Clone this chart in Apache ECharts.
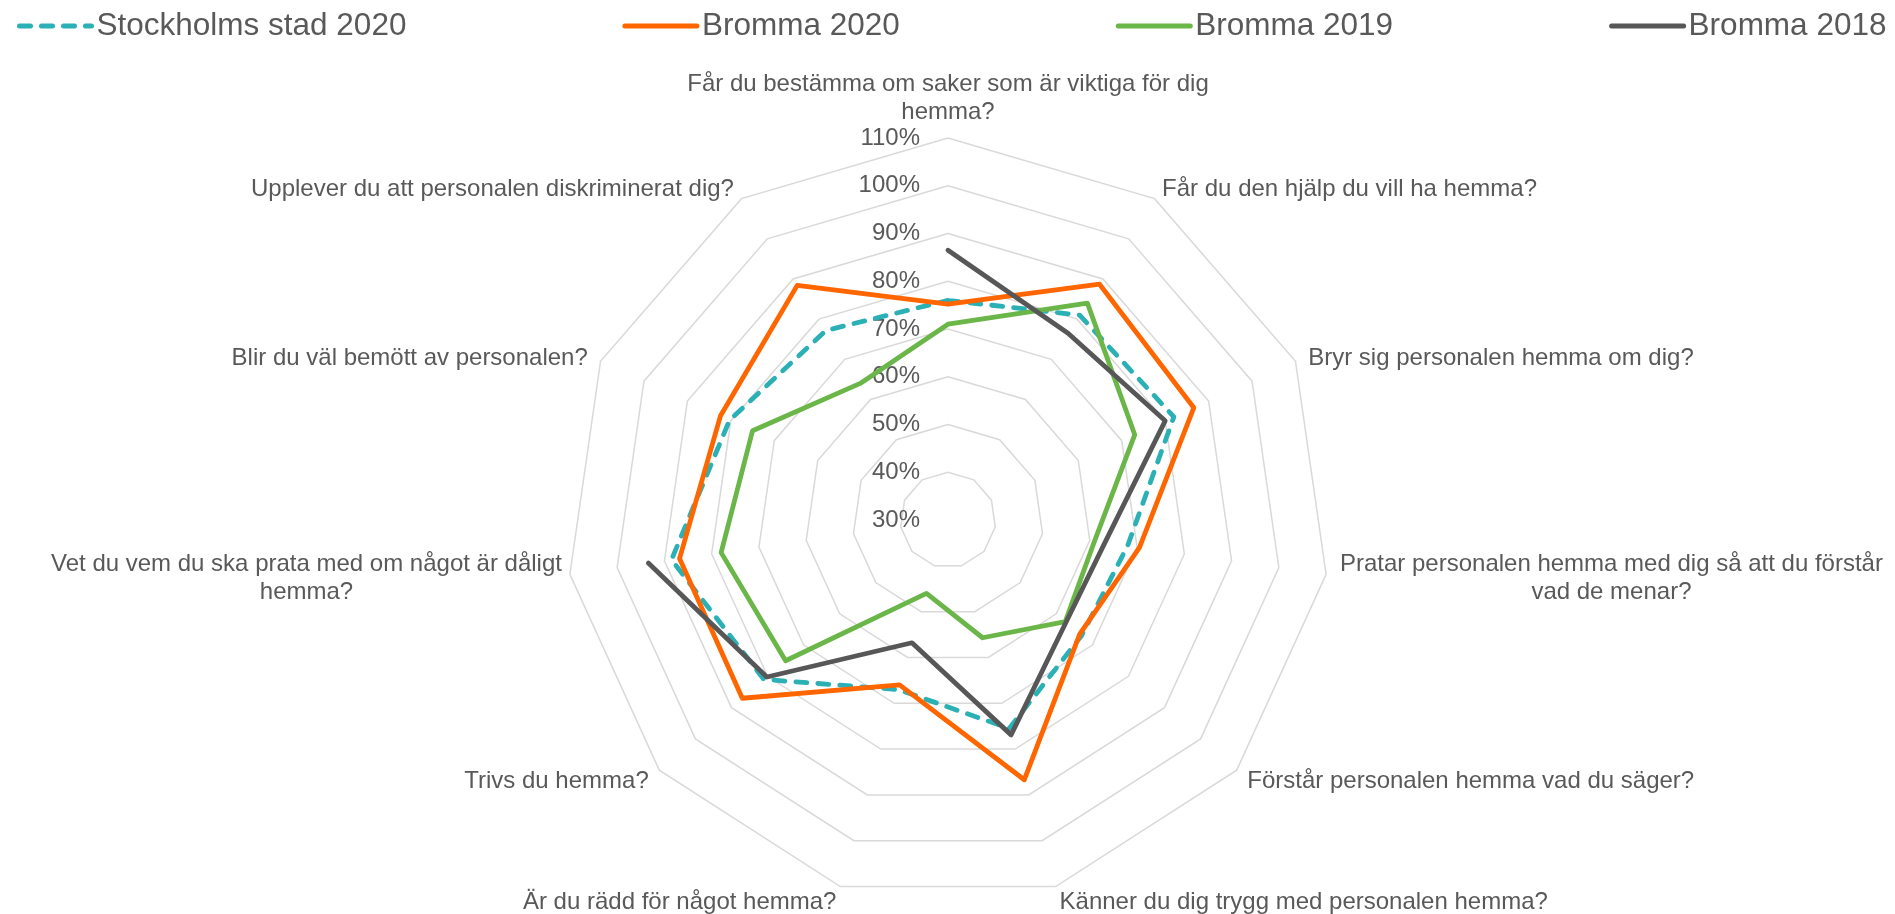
<!DOCTYPE html>
<html>
<head>
<meta charset="utf-8">
<title>Bromma radar</title>
<script src="https://cdn.jsdelivr.net/npm/echarts@6/dist/echarts.min.js"></script>
<style>
  html, body { margin: 0; padding: 0; background: #fff; }
  #chart { width: 1895px; height: 914px; }
</style>
</head>
<body>
<div id="chart"></div>
<script>
// questions in clockwise order, starting at the top
const questions = [
  'Får du bestämma om saker som är viktiga för dig\nhemma?',
  'Får du den hjälp du vill ha hemma?',
  'Bryr sig personalen hemma om dig?',
  'Pratar personalen hemma med dig så att du förstår\nvad de menar?',
  'Förstår personalen hemma vad du säger?',
  'Känner du dig trygg med personalen hemma?',
  'Är du rädd för något hemma?',
  'Trivs du hemma?',
  'Vet du vem du ska prata med om något är dåligt\nhemma?',
  'Blir du väl bemött av personalen?',
  'Upplever du att personalen diskriminerat dig?'
];

const seriesNames = ['Stockholms stad 2020', 'Bromma 2020', 'Bromma 2019', 'Bromma 2018'];
const stockholm2020 = [76, 81, 82, 68, 67, 75.5, 67, 81, 88.5, 80.3, 77.2];
const bromma2020 = [75.2, 88.7, 86.6, 70.5, 66.5, 86.7, 66, 87, 86.8, 82.4, 88.4];
const bromma2019 = [71, 84, 73, 61, 62.5, 55.7, 46, 75, 78, 75, 64];
const bromma2018 = [86.5, 76.5, 80, 63.2, 62.7, 76.9, 56.8, 80.2, 93.4, null, null];

const scaleMin = 30;
const scaleMax = 110;
const scaleStep = 10;

const colors = ['#2bb0b5', '#ff6600', '#6ab649', '#575757'];
const textColor = '#595959';
const font = '"Liberation Sans", Arial, sans-serif';
const labelSize = 24;
const center = [948, 520];
const radius = 382;

// echarts radar runs counter-clockwise, so flip the order after the first one
const radarOrder = [questions[0]].concat(questions.slice(1).reverse());

function nameGapFor(q) {
  if (q === questions[0]) return 11.5;
  if (q === questions[8]) return 8;
  return 14;
}

function toPolar(values) {
  const pts = values.map((v, i) => [v == null ? '-' : v, i]);
  pts.push([values[0] == null ? '-' : values[0], values.length]);
  return pts;
}

const allValues = [stockholm2020, bromma2020, bromma2019, bromma2018];

const chart = echarts.init(document.getElementById('chart'));
chart.setOption({
  animation: false,
  backgroundColor: '#fff',
  color: colors,
  legend: {
    data: seriesNames,
    left: 12,
    top: 5,
    itemWidth: 72,
    itemHeight: 6,
    itemGap: 216,
    textStyle: { fontSize: 31.5, color: textColor, fontFamily: font },
    itemStyle: { opacity: 0 },
    lineStyle: { width: 5 }
  },
  radar: {
    center: center,
    radius: radius,
    startAngle: 90,
    shape: 'polygon',
    splitNumber: (scaleMax - scaleMin) / scaleStep,
    nameGap: 14,
    indicator: radarOrder.map((q, i) => ({
      name: q,
      min: scaleMin,
      max: scaleMax,
      nameGap: nameGapFor(q),
      axisLabel: { show: i === 0 }
    })),
    axisName: {
      color: textColor,
      fontSize: labelSize,
      fontFamily: font,
      padding: [5, 0, 0, 0],
      formatter: name => name.split('\n').map(l => '{c|' + l + '}').join('\n'),
      rich: {
        c: { align: 'center', color: textColor, fontSize: labelSize, fontFamily: font, lineHeight: 28 }
      }
    },
    axisLine: { show: false },
    axisTick: { show: false },
    axisLabel: {
      show: false,
      color: textColor,
      fontSize: labelSize,
      fontFamily: font,
      margin: 28,
      padding: [8, 0, 0, 0],
      formatter: '{value}%'
    },
    splitLine: { lineStyle: { color: '#d9d9d9', width: 1.5 } },
    splitArea: { show: false }
  },
  polar: { center: center, radius: radius },
  angleAxis: {
    type: 'value',
    min: 0,
    max: questions.length,
    startAngle: 90,
    clockwise: true,
    show: false
  },
  radiusAxis: { type: 'value', min: scaleMin, max: scaleMax, show: false },
  series: seriesNames.map((name, k) => ({
    name: name,
    type: 'line',
    coordinateSystem: 'polar',
    data: toPolar(allValues[k]),
    symbol: 'none',
    connectNulls: false,
    itemStyle: { color: colors[k] },
    lineStyle: {
      color: colors[k],
      width: 4.8,
      type: k === 0 ? [11, 11] : 'solid',
      cap: 'round',
      join: 'round'
    },
    z: 3 + k
  }))
});
</script>
</body>
</html>
